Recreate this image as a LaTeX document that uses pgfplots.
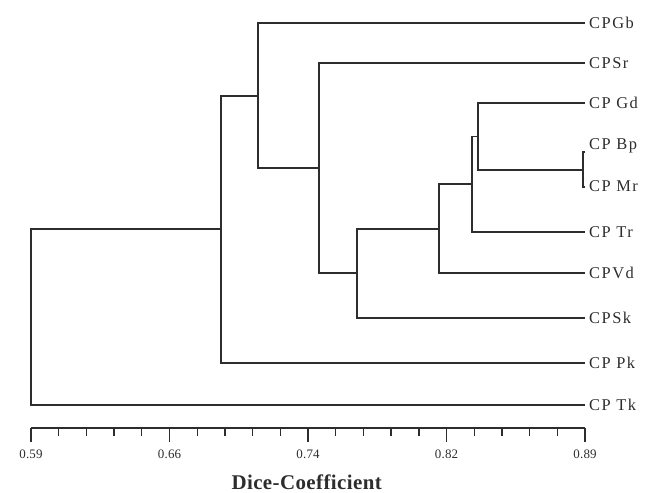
\documentclass[border=0pt]{standalone}
\usepackage{pgfplots}
\pgfplotsset{compat=1.18}
\usepackage{fontspec}
\setmainfont{Liberation Serif}
\definecolor{ink}{RGB}{45,45,45}

% y is in "row" units that run downward (y dir=reverse), x is the Dice coefficient
\pgfplotsset{
  dendro/.style={ink, line width=1.9pt, line join=miter, mark=none}
}
\tikzset{
  leaf/.style={anchor=west, font=\fontsize{16.5}{18}\selectfont\addfontfeatures{LetterSpace=9}, text=ink, inner sep=0pt, xshift=4bp}
}

\begin{document}
\begin{tikzpicture}
\useasboundingbox (0,0) rectangle (650bp,493bp);
\begin{axis}[
  at={(31bp,65bp)}, anchor=south west,
  scale only axis, width=554bp, height=428bp,
  xmin=0.59, xmax=0.89, ymin=0, ymax=428, y dir=reverse,
  axis x line=bottom, axis y line=none,
  x axis line style={-, ink, line width=1.5pt},
  xtick={0.59,0.665,0.74,0.815,0.89},
  xticklabels={0.59,0.66,0.74,0.82,0.89},
  minor x tick num=4,
  tick align=outside,
  major tick length=14bp, minor tick length=8bp,
  every tick/.style={ink, line width=1.4pt},
  tick label style={font=\fontsize{13}{14}\selectfont\addfontfeatures{LetterSpace=2}, text=ink, yshift=-4bp},
  /pgf/number format/assume math mode=true,
  xlabel={\textbf{Dice-Coefficient}},
  xlabel style={font=\fontsize{21}{23}\selectfont\addfontfeatures{LetterSpace=2}, text=ink,
    anchor=center, at={(axis description cs:0.498,0)}, yshift=-54bp},
  clip=false,
]
% Bp + Mr
\addplot[dendro] coordinates {(0.89,152) (0.889,152) (0.889,187) (0.89,187)};
% Gd + (Bp,Mr)
\addplot[dendro] coordinates {(0.89,103) (0.832,103) (0.832,170) (0.889,170)};
% + Tr
\addplot[dendro] coordinates {(0.832,136.5) (0.829,136.5) (0.829,232) (0.89,232)};
% + Vd
\addplot[dendro] coordinates {(0.829,184.3) (0.811,184.3) (0.811,273) (0.89,273)};
% + Sk
\addplot[dendro] coordinates {(0.811,228.6) (0.7665,228.6) (0.7665,318) (0.89,318)};
% Sr + rest
\addplot[dendro] coordinates {(0.89,63) (0.746,63) (0.746,273.3) (0.7665,273.3)};
% Gb + rest
\addplot[dendro] coordinates {(0.89,23) (0.713,23) (0.713,168.2) (0.746,168.2)};
% + Pk
\addplot[dendro] coordinates {(0.713,95.6) (0.693,95.6) (0.693,363) (0.89,363)};
% root: + Tk
\addplot[dendro] coordinates {(0.693,229.3) (0.59,229.3) (0.59,405) (0.89,405)};

\node[leaf] at (axis cs:0.89,23)  {CPGb};
\node[leaf] at (axis cs:0.89,63)  {CPSr};
\node[leaf] at (axis cs:0.89,103) {CP Gd};
\node[leaf] at (axis cs:0.89,146) {CP Bp};
\node[leaf] at (axis cs:0.89,186) {CP Mr};
\node[leaf] at (axis cs:0.89,232) {CP Tr};
\node[leaf] at (axis cs:0.89,273) {CPVd};
\node[leaf] at (axis cs:0.89,318) {CPSk};
\node[leaf] at (axis cs:0.89,363) {CP Pk};
\node[leaf] at (axis cs:0.89,405) {CP Tk};
\end{axis}
\end{tikzpicture}
\end{document}
